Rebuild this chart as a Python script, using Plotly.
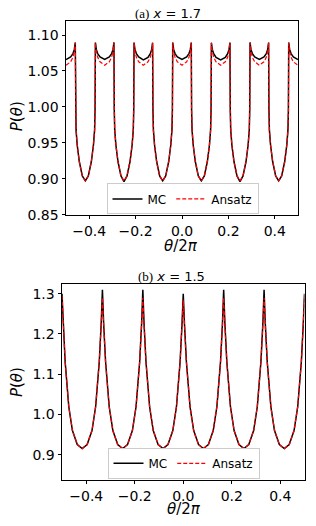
import plotly.graph_objects as go

# ---------------- panel (a) x = 1.7 ----------------
theta_a = [
    -0.5,
    -0.48, -0.47, -0.464, -0.46, -0.4587, -0.4567, -0.4517, -0.4427, -0.4297, -0.4167,
    -0.4037, -0.3907, -0.3817, -0.3767, -0.3747, -0.3733, -0.3693, -0.3633, -0.3533, -0.3333,
    -0.3133, -0.3033, -0.2973, -0.2933, -0.2920, -0.2900, -0.2850, -0.2760, -0.2630, -0.2500,
    -0.2370, -0.2240, -0.2150, -0.2100, -0.2080, -0.2067, -0.2027, -0.1967, -0.1867, -0.1667,
    -0.1467, -0.1367, -0.1307, -0.1267, -0.1253, -0.1233, -0.1183, -0.1093, -0.0963, -0.0833,
    -0.0703, -0.0573, -0.0483, -0.0433, -0.0413, -0.0400, -0.0360, -0.0300, -0.0200, 0.0,
    0.0200, 0.0300, 0.0360, 0.0400, 0.0413, 0.0433, 0.0483, 0.0573, 0.0703, 0.0833,
    0.0963, 0.1093, 0.1183, 0.1233, 0.1253, 0.1267, 0.1307, 0.1367, 0.1467, 0.1667,
    0.1867, 0.1967, 0.2027, 0.2067, 0.2080, 0.2100, 0.2150, 0.2240, 0.2370, 0.2500,
    0.2630, 0.2760, 0.2850, 0.2900, 0.2920, 0.2933, 0.2973, 0.3033, 0.3133, 0.3333,
    0.3533, 0.3633, 0.3693, 0.3733, 0.3747, 0.3767, 0.3817, 0.3907, 0.4037, 0.4167,
    0.4297, 0.4427, 0.4517, 0.4567, 0.4587, 0.4600, 0.4640, 0.4700, 0.4800, 0.5,
]
mc_a = [
    1.066,
    1.0695, 1.0742, 1.0800, 1.0895, 0.997, 0.968, 0.947, 0.924, 0.904, 0.897,
    0.904, 0.924, 0.947, 0.968, 0.997, 1.0895, 1.0800, 1.0742, 1.0695, 1.0660,
    1.0695, 1.0742, 1.0800, 1.0898, 0.997, 0.968, 0.947, 0.924, 0.904, 0.896,
    0.904, 0.924, 0.947, 0.968, 0.997, 1.0895, 1.0800, 1.0742, 1.0695, 1.0655,
    1.0690, 1.0740, 1.0800, 1.0890, 0.997, 0.968, 0.947, 0.924, 0.904, 0.897,
    0.904, 0.924, 0.947, 0.968, 0.997, 1.0895, 1.0800, 1.0742, 1.0695, 1.0660,
    1.0695, 1.0742, 1.0800, 1.0895, 0.997, 0.968, 0.947, 0.924, 0.904, 0.897,
    0.904, 0.924, 0.947, 0.968, 0.997, 1.0890, 1.0800, 1.0740, 1.0690, 1.0655,
    1.0690, 1.0740, 1.0800, 1.0895, 0.997, 0.968, 0.947, 0.924, 0.904, 0.896,
    0.904, 0.924, 0.947, 0.968, 0.997, 1.0898, 1.0800, 1.0742, 1.0695, 1.0660,
    1.0695, 1.0742, 1.0800, 1.0895, 0.997, 0.968, 0.947, 0.924, 0.904, 0.897,
    0.904, 0.924, 0.947, 0.968, 0.997, 1.0895, 1.0800, 1.0742, 1.0695, 1.0660,
]
ansatz_a = [
    1.058,
    1.0627, 1.0690, 1.0770, 1.0895, 0.997, 0.968, 0.947, 0.924, 0.904, 0.897,
    0.904, 0.924, 0.947, 0.968, 0.997, 1.0895, 1.0770, 1.0690, 1.0627, 1.0580,
    1.0627, 1.0690, 1.0770, 1.0895, 0.997, 0.968, 0.947, 0.924, 0.904, 0.897,
    0.904, 0.924, 0.947, 0.968, 0.997, 1.0895, 1.0770, 1.0690, 1.0627, 1.0580,
    1.0627, 1.0690, 1.0770, 1.0895, 0.997, 0.968, 0.947, 0.924, 0.904, 0.897,
    0.904, 0.924, 0.947, 0.968, 0.997, 1.0895, 1.0770, 1.0690, 1.0627, 1.0580,
    1.0627, 1.0690, 1.0770, 1.0895, 0.997, 0.968, 0.947, 0.924, 0.904, 0.897,
    0.904, 0.924, 0.947, 0.968, 0.997, 1.0895, 1.0770, 1.0690, 1.0627, 1.0580,
    1.0627, 1.0690, 1.0770, 1.0895, 0.997, 0.968, 0.947, 0.924, 0.904, 0.897,
    0.904, 0.924, 0.947, 0.968, 0.997, 1.0895, 1.0770, 1.0690, 1.0627, 1.0580,
    1.0627, 1.0690, 1.0770, 1.0895, 0.997, 0.968, 0.947, 0.924, 0.904, 0.897,
    0.904, 0.924, 0.947, 0.968, 0.997, 1.0895, 1.0770, 1.0690, 1.0627, 1.0580,
]

# ---------------- panel (b) x = 1.5 ----------------
theta_b = [
    -0.5,
    -0.495, -0.487, -0.472, -0.457, -0.437, -0.4167, -0.3963, -0.3763, -0.3613, -0.3463, -0.3383, -0.3333,
    -0.3283, -0.3203, -0.3053, -0.2903, -0.2703, -0.2500, -0.2297, -0.2097, -0.1947, -0.1797, -0.1717, -0.1667,
    -0.1617, -0.1537, -0.1387, -0.1237, -0.1037, -0.0833, -0.0630, -0.0430, -0.0280, -0.0130, -0.0050, 0.0,
    0.0050, 0.0130, 0.0280, 0.0430, 0.0630, 0.0833, 0.1037, 0.1237, 0.1387, 0.1537, 0.1617, 0.1667,
    0.1717, 0.1797, 0.1947, 0.2097, 0.2297, 0.2500, 0.2703, 0.2903, 0.3053, 0.3203, 0.3283, 0.3333,
    0.3383, 0.3463, 0.3613, 0.3763, 0.3963, 0.4167, 0.4370, 0.4570, 0.4720, 0.4870, 0.4950, 0.5,
]
mc_b = [
    1.300,
    1.226, 1.131, 1.019, 0.960, 0.925, 0.915, 0.925, 0.960, 1.019, 1.131, 1.226, 1.310,
    1.226, 1.131, 1.019, 0.960, 0.925, 0.915, 0.925, 0.960, 1.019, 1.131, 1.226, 1.310,
    1.226, 1.131, 1.019, 0.960, 0.925, 0.915, 0.925, 0.960, 1.019, 1.131, 1.226, 1.300,
    1.226, 1.131, 1.019, 0.960, 0.925, 0.915, 0.925, 0.960, 1.019, 1.131, 1.226, 1.310,
    1.226, 1.131, 1.019, 0.960, 0.925, 0.915, 0.925, 0.960, 1.019, 1.131, 1.226, 1.310,
    1.226, 1.131, 1.019, 0.960, 0.925, 0.915, 0.925, 0.960, 1.019, 1.131, 1.226, 1.300,
]
ansatz_b = [
    1.295,
    1.224, 1.130, 1.019, 0.960, 0.925, 0.915, 0.925, 0.960, 1.019, 1.130, 1.224, 1.290,
    1.224, 1.130, 1.019, 0.960, 0.925, 0.915, 0.925, 0.960, 1.019, 1.130, 1.224, 1.290,
    1.224, 1.130, 1.019, 0.960, 0.925, 0.915, 0.925, 0.960, 1.019, 1.130, 1.224, 1.285,
    1.224, 1.130, 1.019, 0.960, 0.925, 0.915, 0.925, 0.960, 1.019, 1.130, 1.224, 1.290,
    1.224, 1.130, 1.019, 0.960, 0.925, 0.915, 0.925, 0.960, 1.019, 1.130, 1.224, 1.290,
    1.224, 1.130, 1.019, 0.960, 0.925, 0.915, 0.925, 0.960, 1.019, 1.130, 1.224, 1.295,
]

x_ticks = [-0.4, -0.2, 0.0, 0.2, 0.4]
y_ticks_a = [0.85, 0.90, 0.95, 1.00, 1.05, 1.10]
y_ticks_b = [0.9, 1.0, 1.1, 1.2, 1.3]

W, H = 316, 526
SANS = "DejaVu Sans"

fig = go.Figure()
fig.add_trace(go.Scatter(x=theta_a, y=mc_a, mode="lines", name="MC",
                         line=dict(color="black", width=1.5),
                         xaxis="x", yaxis="y", legend="legend"))
fig.add_trace(go.Scatter(x=theta_a, y=ansatz_a, mode="lines", name="Ansatz",
                         line=dict(color="red", width=1.2, dash="4px,2px"),
                         xaxis="x", yaxis="y", legend="legend"))
fig.add_trace(go.Scatter(x=theta_b, y=mc_b, mode="lines", name="MC",
                         line=dict(color="black", width=1.5),
                         xaxis="x2", yaxis="y2", legend="legend2"))
fig.add_trace(go.Scatter(x=theta_b, y=ansatz_b, mode="lines", name="Ansatz",
                         line=dict(color="red", width=1.2, dash="4px,2px"),
                         xaxis="x2", yaxis="y2", legend="legend2"))

def px_x(p):
    return p / W

def px_y(p):
    return 1 - p / H

axis_common = dict(showline=True, mirror=True, linecolor="black", linewidth=1,
                   ticks="outside", ticklen=3.5, tickwidth=1, tickcolor="black",
                   showgrid=False, zeroline=False,
                   tickfont=dict(family=SANS, size=14, color="black"))

leg_common = dict(orientation="h", xanchor="center", yanchor="middle",
                  bgcolor="rgba(255,255,255,0.85)", bordercolor="#cccccc",
                  borderwidth=1, font=dict(family=SANS, size=12, color="black"))

fig.update_layout(
    width=W, height=H,
    margin=dict(l=0, r=0, t=0, b=0),
    paper_bgcolor="white", plot_bgcolor="white",
    xaxis=dict(domain=[px_x(66), px_x(298)], range=[-0.5, 0.5], anchor="y",
               tickvals=x_ticks, tickformat=".1f", **axis_common),
    yaxis=dict(domain=[px_y(218), px_y(21)], range=[0.85, 1.12], anchor="x",
               tickvals=y_ticks_a, tickformat=".2f", **axis_common),
    xaxis2=dict(domain=[px_x(62), px_x(304.5)], range=[-0.5, 0.5], anchor="y2",
                tickvals=x_ticks, tickformat=".1f", **axis_common),
    yaxis2=dict(domain=[px_y(487), px_y(288)], range=[0.838, 1.325], anchor="x2",
                tickvals=y_ticks_b, tickformat=".1f", **axis_common),
    legend=dict(x=px_x(182.5), y=px_y(202), **leg_common),
    legend2=dict(x=px_x(183.5), y=px_y(470.5), **leg_common),
)

ann = []
# panel titles
ann.append(dict(text='<span style="font-family:Liberation Serif">(a)</span> <i>x</i> = 1.7',
                x=px_x(168), y=px_y(14), xref="paper", yref="paper", showarrow=False,
                xanchor="center", yanchor="middle",
                font=dict(family=SANS, size=13, color="black")))
ann.append(dict(text='<span style="font-family:Liberation Serif">(b)</span> <i>x</i> = 1.5',
                x=px_x(171), y=px_y(281), xref="paper", yref="paper", showarrow=False,
                xanchor="center", yanchor="middle",
                font=dict(family=SANS, size=13, color="black")))
# axis titles
for xc, yc in [(181, 249.5), (183.5, 517)]:
    ann.append(dict(text="<i>θ</i>/2<i>π</i>", x=px_x(xc), y=px_y(yc),
                    xref="paper", yref="paper", showarrow=False,
                    xanchor="center", yanchor="middle", borderpad=0,
                    font=dict(family=SANS, size=15, color="black")))
for xc, yc in [(17, 118), (17, 388)]:
    ann.append(dict(text="<i>P</i>(<i>θ</i>)", x=px_x(xc), y=px_y(yc), textangle=-90,
                    xref="paper", yref="paper", showarrow=False,
                    xanchor="center", yanchor="middle",
                    font=dict(family=SANS, size=15, color="black")))
fig.update_layout(annotations=ann)

fig.write_html("out.html", config={"displayModeBar": False},
               post_script="document.body.style.margin='0';document.body.style.overflow='hidden';")
